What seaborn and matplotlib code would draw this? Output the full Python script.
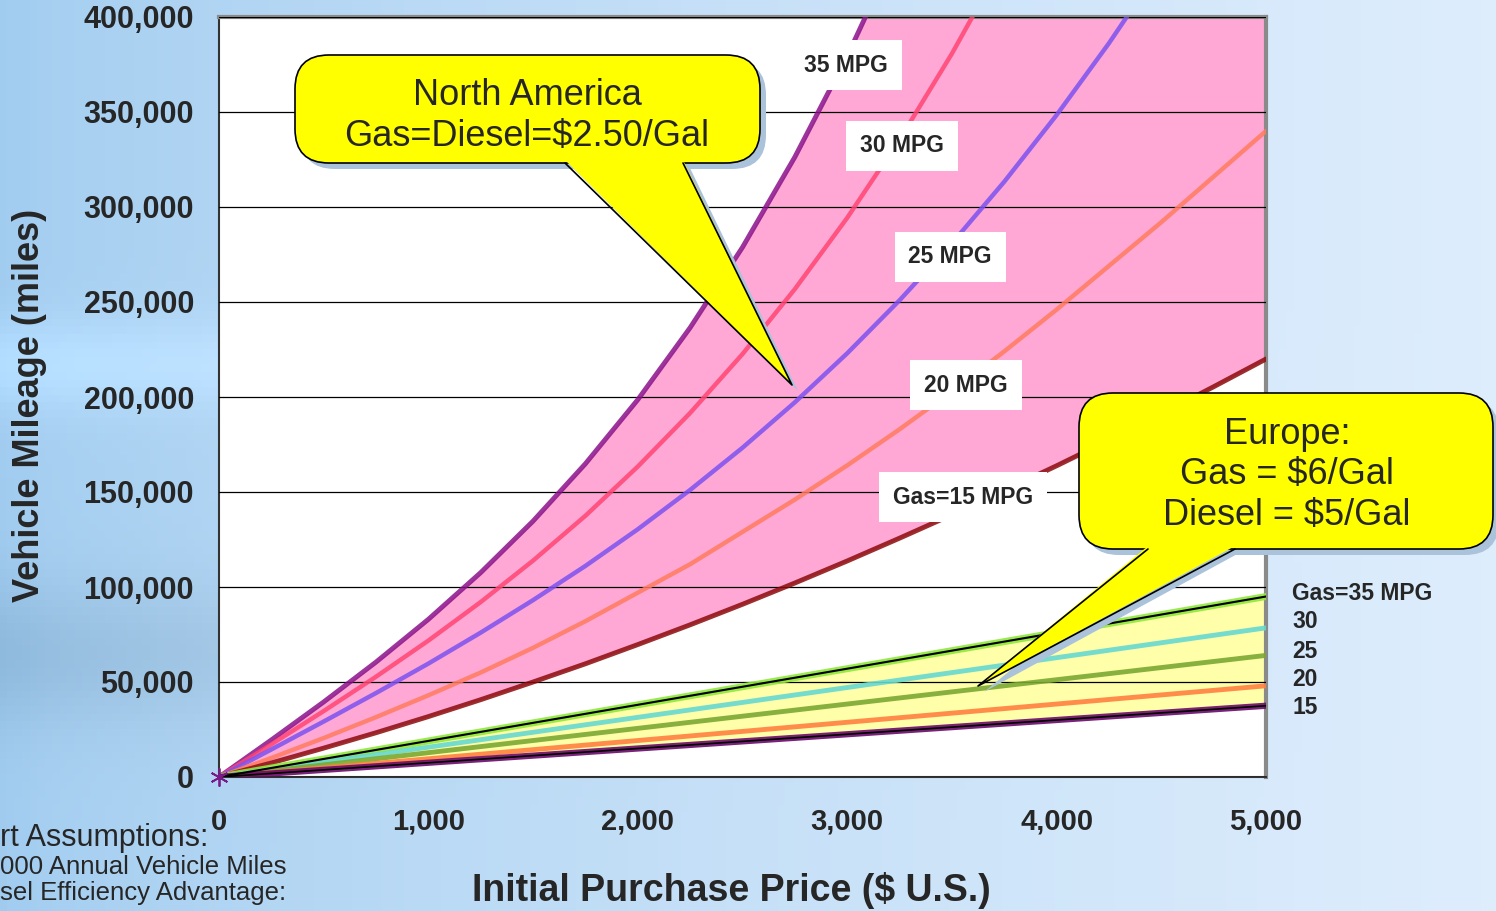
import matplotlib
matplotlib.use('Agg')
import matplotlib.pyplot as plt
import matplotlib.transforms as mtransforms
from matplotlib import font_manager
from matplotlib.patches import FancyBboxPatch, Polygon
from matplotlib.lines import Line2D
import numpy as np
import seaborn as sns

# North America curves (gas = diesel = $2.50/gal), miles needed vs diesel price premium
price = [0, 250, 500, 750, 1000, 1250, 1500, 1750, 2000, 2250, 2500,
         2750, 3000, 3250, 3500, 3750, 4000, 4250, 4500, 4750, 5000]
na_15 = [0, 7400, 15200, 23300, 31800, 40700, 50000, 59600, 69700, 80100, 90900,
         102100, 113700, 125700, 138000, 150800, 163800, 177300, 191100, 205400, 220000]
na_20 = [0, 10000, 20500, 31500, 43000, 55000, 68000, 82000, 97000, 112000, 129000,
         146000, 164000, 183000, 203000, 224000, 246000, 269000, 292000, 316000, 340000]
na_25 = [0, 14500, 29200, 44200, 59700, 76000, 93100, 111100, 130400, 151100, 173300,
         197200, 223000, 250900, 280900, 313300, 348400, 386200, 426900]
na_30 = [0, 17200, 34700, 52800, 71800, 92100, 113900, 137500, 163400, 191600, 222600,
         256800, 294300, 335500, 380700, 430200]
na_35 = [0, 19500, 39500, 60500, 83000, 107600, 134700, 164900, 198600, 236500, 278800,
         326300, 379400, 438600]

# Europe curves (gas $6, diesel $5)
eu_price = [0, 1000, 2000, 3000, 4000, 5000]
eu_35 = [0, 19000, 38000, 57000, 76000, 95000]
eu_30 = [0, 15700, 31400, 47100, 62800, 78500]
eu_25 = [0, 12800, 25600, 38400, 51200, 64000]
eu_20 = [0, 9600, 19200, 28800, 38400, 48000]
eu_15 = [0, 7500, 15000, 22500, 30000, 37500]

x_ticks = [0, 1000, 2000, 3000, 4000, 5000]
x_tick_labels = ['0', '1,000', '2,000', '3,000', '4,000', '5,000']
y_ticks = [0, 50000, 100000, 150000, 200000, 250000, 300000, 350000, 400000]
y_tick_labels = ['0', '50,000', '100,000', '150,000', '200,000', '250,000',
                 '300,000', '350,000', '400,000']

na_labels = ['35 MPG', '30 MPG', '25 MPG', '20 MPG', 'Gas=15 MPG']
eu_labels = ['Gas=35 MPG', '30', '25', '20', '15']

W, H = 1496, 911
sns.set_style('white')
plt.rcParams['font.family'] = ['Liberation Sans', 'DejaVu Sans']
installed = {f.name for f in font_manager.fontManager.ttflist}
has_narrow = 'Liberation Sans Narrow' in installed

fig = plt.figure(figsize=(W / 100, H / 100), dpi=100)

# slide background
bg = fig.add_axes([0, 0, 1, 1], zorder=-10)
gx = np.linspace(0, 1, 200)
gy = np.linspace(0, 1, 120)[:, None]
left = np.array([0.63, 0.80, 0.94])
right = np.array([0.87, 0.93, 0.99])
t = (gx ** 0.7)[None, :, None]
img = left * (1 - t) + right * t
band = 0.07 * np.exp(-((gy - 0.40) / 0.05) ** 2) - 0.07 * np.exp(-((gy - 0.72) / 0.08) ** 2)
img = np.clip(img + (band * (1 - gx[None, :]) ** 2)[:, :, None], 0, 1)
bg.imshow(img, aspect='auto', extent=[0, 1, 1, 0])
bg.set_axis_off()

ax = fig.add_axes([219 / W, 1 - 777 / H, 1047 / W, 760 / H])
ax.set_facecolor('white')

# pink area, North America
xs = np.linspace(0, 5000, 501)
lo = np.interp(xs, price, na_15)
hi = np.minimum(np.interp(xs, price[:len(na_35)], na_35, right=400000), 400000)
ax.fill_between(xs, lo, hi, color='#ffa8d6', lw=0, zorder=1)

# yellow area, Europe
ax.fill_between(eu_price, eu_15, eu_35, color='#ffffaa', lw=0, zorder=1)

na_series = [(na_35, '#8a108a', 3.5), (na_30, '#ff4672', 3.2), (na_25, '#7c52f0', 3.2),
             (na_20, '#ff7c60', 3.2), (na_15, '#8b0a0a', 3.5)]
for vals, col, lw in na_series:
    sns.lineplot(x=price[:len(vals)], y=vals, ax=ax, color=col, lw=lw, alpha=0.85, zorder=3)

eu_series = [(eu_35, '#8ee83a', 5), (eu_30, '#66d8d0', 3.5), (eu_25, '#7aa832', 3.5),
             (eu_20, '#ff8040', 3.5), (eu_15, '#6a0a6a', 4.5)]
for vals, col, lw in eu_series:
    sns.lineplot(x=eu_price, y=vals, ax=ax, color=col, lw=lw, alpha=0.9, zorder=3)
sns.lineplot(x=eu_price, y=eu_35, ax=ax, color='black', lw=1.5, zorder=4)
sns.lineplot(x=eu_price, y=eu_15, ax=ax, color='black', lw=1.2, zorder=4)

ax.plot([0], [0], marker=(6, 2, 0), ms=13, color='#7a1a8a', mew=1.3, clip_on=False, zorder=5)

ax.set_xlim(0, 5000)
ax.set_ylim(0, 400000)
ax.set_xticks(x_ticks)
ax.set_xticklabels(x_tick_labels, fontsize=21, fontweight='bold')
ax.set_yticks(y_ticks)
ax.set_yticklabels(y_tick_labels, fontsize=22, fontweight='bold')
ax.tick_params(axis='y', direction='out', length=10, width=1.3, color='#333333', pad=8)
ax.tick_params(axis='x', direction='out', length=10, width=1.3, color='#333333', pad=12)
ax.set_axisbelow(False)
ax.yaxis.grid(True, color='black', lw=0.9)
ax.xaxis.grid(False)
for side in ['left', 'bottom']:
    ax.spines[side].set_color('#333333')
    ax.spines[side].set_linewidth(1.5)
for side in ['top', 'right']:
    ax.spines[side].set_color('#8a8a8a')
    ax.spines[side].set_linewidth(3)

if has_narrow:
    ax.set_xlabel('Initial Purchase Price ($ U.S.)', fontsize=32, fontweight='bold',
                  family='Liberation Sans Narrow')
else:
    ax.set_xlabel('Initial Purchase Price ($ U.S.)', fontsize=27, fontweight='bold')
ax.xaxis.set_label_coords(0.489, -0.149)
ax.xaxis.label.set_va('center')
ax.set_ylabel('Vehicle Mileage (miles)', fontsize=26, fontweight='bold')
ax.yaxis.set_label_coords(-0.181, 0.489)
ax.yaxis.label.set_va('center')


def fpx(px, py):
    return px / W, 1 - py / H


# white boxed labels on the North America curves
na_label_pos = [(846, 65), (902, 146), (950, 257), (966, 385), (963, 497)]
for txt, (px, py) in zip(na_labels, na_label_pos):
    fig.text(*fpx(px, py), txt, ha='center', va='center', fontsize=16.5, fontweight='bold',
             bbox=dict(boxstyle='square,pad=0.6', fc='white', ec='none'))

eu_label_y = [593, 622, 651, 680, 708]
for txt, py in zip(eu_labels, eu_label_y):
    fig.text(*fpx(1292, py), txt, ha='left', va='center', fontsize=16.5, fontweight='bold')

pix = mtransforms.IdentityTransform()


def callout(x0, y0, x1, y1, base, tip, text, cx, cy):
    # box corners and tail in pixel coordinates measured from the top
    for dx, dy, fc, ec in [(6, 6, '#aac3da', 'none'), (0, 0, '#ffff00', 'black')]:
        box = FancyBboxPatch((x0 + dx, H - y1 - dy), x1 - x0, y1 - y0,
                             boxstyle='round,pad=0,rounding_size=34',
                             fc=fc, ec=ec, lw=1.2, transform=pix, zorder=6)
        fig.add_artist(box)
        tail = Polygon([(base[0] + dx, H - y1 + 3 - dy), (tip[0] + dx, H - tip[1] - dy),
                        (base[1] + dx, H - y1 + 3 - dy)], closed=True, fc=fc, ec='none',
                       transform=pix, zorder=6.1 if ec == 'none' else 7)
        fig.add_artist(tail)
    fig.add_artist(Line2D([base[0], tip[0], base[1]], [H - y1, H - tip[1], H - y1],
                          color='black', lw=1.2, transform=pix, zorder=7.5))
    fig.text(*fpx(cx, cy), text, ha='center', va='center', fontsize=26, zorder=8)


callout(295, 55, 760, 163, (565, 683), (792, 385),
        'North America\nGas=Diesel=$2.50/Gal', 527, 116)
callout(1079, 393, 1493, 549, (1148, 1235), (978, 686),
        'Europe:\nGas = $6/Gal\nDiesel = $5/Gal', 1287, 475)

# assumptions note, cut by the slide edge
fig.text(*fpx(0, 838), 'rt Assumptions:', ha='left', va='center', fontsize=22)
fig.text(*fpx(0, 867), '000 Annual Vehicle Miles', ha='left', va='center', fontsize=18.5)
fig.text(*fpx(0, 893), 'sel Efficiency Advantage:', ha='left', va='center', fontsize=18.5)

fig.savefig('out.png', dpi=100)
